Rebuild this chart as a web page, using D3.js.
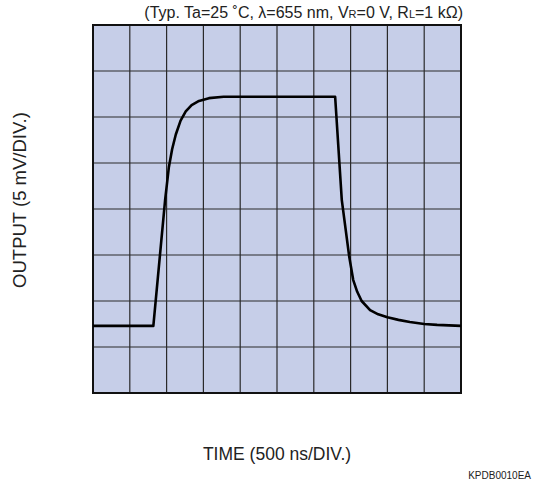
<!DOCTYPE html>
<html>
<head>
<meta charset="utf-8">
<script src="https://cdn.jsdelivr.net/npm/d3@7"></script>
<style>
  body { margin: 0; background: #fff; }
  text { font-family: "Liberation Sans", Arial, sans-serif; fill: #222; }
</style>
</head>
<body>
<div id="chart"></div>
<script>
// divisions on the scope screen
const xDivs = d3.range(0, 11);   // 10 time divisions
const yDivs = d3.range(0, 9);    // 8 output divisions

// waveform in division units (x: time div, y: output div)
const timeDiv = [0, 1.64, 1.96, 2.06, 2.15, 2.25, 2.38, 2.52, 2.68, 2.88, 3.15, 3.55, 6.58, 6.76, 6.96, 7.07, 7.18, 7.30, 7.53, 7.75, 8.00, 8.30, 8.61, 9.00, 9.35, 10];
const outDiv  = [1.46, 1.46, 4.20, 4.90, 5.30, 5.62, 5.92, 6.12, 6.26, 6.35, 6.41, 6.44, 6.44, 4.20, 2.98, 2.46, 2.20, 2.00, 1.80, 1.71, 1.645, 1.59, 1.545, 1.50, 1.48, 1.46];

const W = 542, H = 482;
const margin = { top: 25, left: 93 };
const plotW = 368, plotH = 368;

const svg = d3.select("#chart").append("svg")
    .attr("width", W)
    .attr("height", H);

const g = svg.append("g")
    .attr("transform", `translate(${margin.left},${margin.top})`);

const x = d3.scaleLinear().domain([0, 10]).range([0, plotW]);
const y = d3.scaleLinear().domain([0, 8]).range([plotH, 0]);

// screen background
g.append("rect")
    .attr("width", plotW)
    .attr("height", plotH)
    .style("fill", "#c6cee8");

// grid
g.append("g").selectAll("line")
    .data(xDivs.slice(1, -1))
    .enter().append("line")
    .attr("x1", d => x(d)).attr("x2", d => x(d))
    .attr("y1", 0).attr("y2", plotH)
    .style("stroke", "#2a2a2a").style("stroke-width", 1.2);

g.append("g").selectAll("line")
    .data(yDivs.slice(1, -1))
    .enter().append("line")
    .attr("y1", d => y(d)).attr("y2", d => y(d))
    .attr("x1", 0).attr("x2", plotW)
    .style("stroke", "#2a2a2a").style("stroke-width", 1.2);

// frame
g.append("rect")
    .attr("width", plotW)
    .attr("height", plotH)
    .style("fill", "none")
    .style("stroke", "#111")
    .style("stroke-width", 2);

// waveform
const line = d3.line()
    .x((d, i) => x(timeDiv[i]))
    .y(d => y(d))
    .curve(d3.curveLinear);

g.append("path")
    .datum(outDiv)
    .attr("d", line)
    .style("fill", "none")
    .style("stroke", "#000")
    .style("stroke-width", 2.6)
    .style("stroke-linejoin", "round");

// condition text with subscripts
const cond = svg.append("text")
    .attr("x", margin.left + plotW + 2)
    .attr("y", 18)
    .attr("text-anchor", "end")
    .style("font-size", "16px");
cond.append("tspan").text("(Typ. Ta=25 ˚C, λ=655 nm, V");
cond.append("tspan").text("R").style("font-size", "11px");
cond.append("tspan").text("=0 V, R");
cond.append("tspan").text("L").style("font-size", "11px");
cond.append("tspan").text("=1 kΩ)");

// axis titles
svg.append("text")
    .attr("transform", `translate(26,200) rotate(-90)`)
    .attr("text-anchor", "middle")
    .style("font-size", "18.5px")
    .text("OUTPUT (5 mV/DIV.)");

svg.append("text")
    .attr("x", margin.left + plotW / 2)
    .attr("y", 460)
    .attr("text-anchor", "middle")
    .style("font-size", "17.5px")
    .text("TIME (500 ns/DIV.)");

svg.append("text")
    .attr("x", 531)
    .attr("y", 479)
    .attr("text-anchor", "end")
    .style("font-size", "10px")
    .text("KPDB0010EA");
</script>
</body>
</html>
